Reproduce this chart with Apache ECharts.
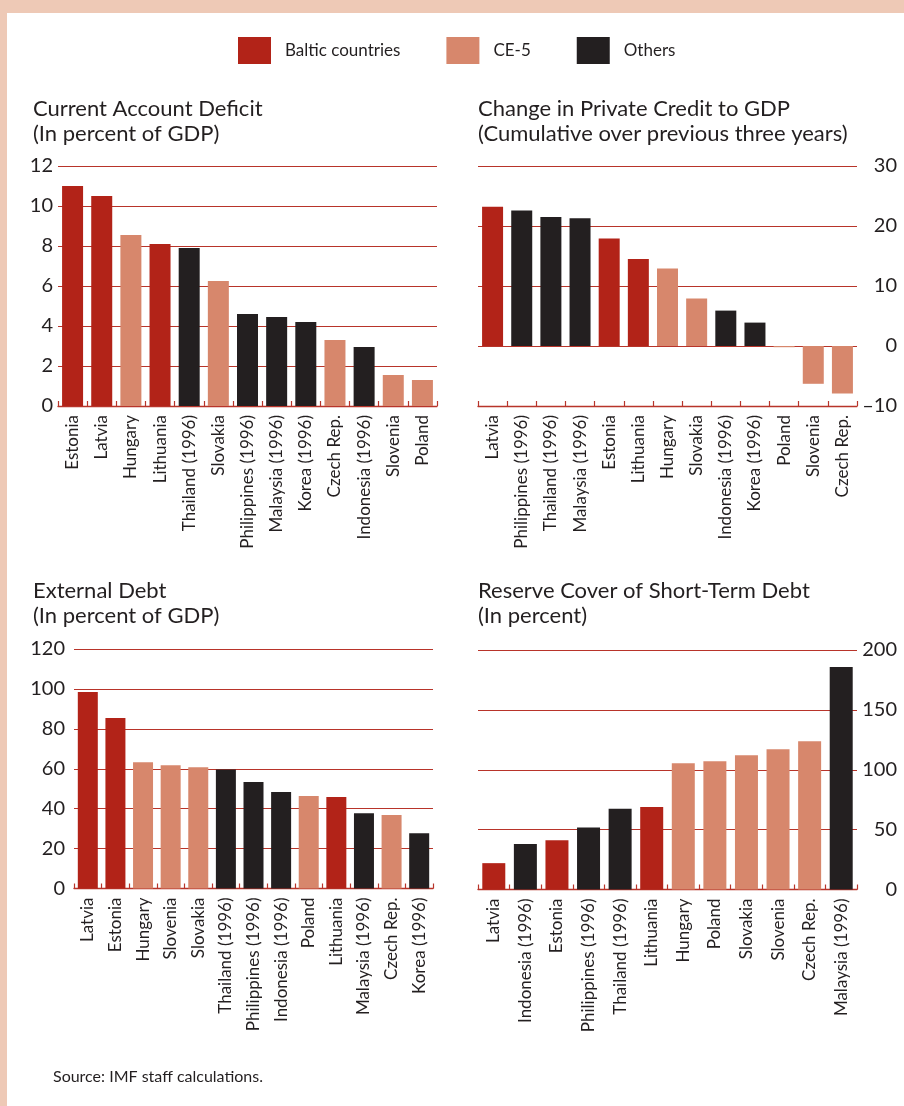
<!DOCTYPE html>
<html>
<head>
<meta charset="utf-8">
<script src="https://cdn.jsdelivr.net/npm/echarts@6/dist/echarts.min.js"></script>
<style>
  html, body { margin: 0; padding: 0; background: #ffffff; }
  #chart { width: 904px; height: 1106px; }
</style>
</head>
<body>
<div id="chart"></div>
<script>
// Group names and colours
const groupNames = ['Baltic countries', 'CE-5', 'Others'];
const groupColors = ['#B22318', '#D7876C', '#231F20'];

// Current Account Deficit (percent of GDP)
const caCategories = ['Estonia', 'Latvia', 'Hungary', 'Lithuania', 'Thailand (1996)', 'Slovakia',
  'Philippines (1996)', 'Malaysia (1996)', 'Korea (1996)', 'Czech Rep.', 'Indonesia (1996)', 'Slovenia', 'Poland'];
const caValues = [11.0, 10.5, 8.55, 8.1, 7.9, 6.25, 4.6, 4.45, 4.2, 3.3, 2.95, 1.55, 1.3];
const caGroups = [0, 0, 1, 0, 2, 1, 2, 2, 2, 1, 2, 1, 1];

// Change in Private Credit to GDP (cumulative over previous three years)
const pcCategories = ['Latvia', 'Philippines (1996)', 'Thailand (1996)', 'Malaysia (1996)', 'Estonia', 'Lithuania',
  'Hungary', 'Slovakia', 'Indonesia (1996)', 'Korea (1996)', 'Poland', 'Slovenia', 'Czech Rep.'];
const pcValues = [23.2, 22.6, 21.5, 21.3, 17.9, 14.5, 12.9, 7.9, 5.9, 3.9, -0.2, -6.3, -7.9];
const pcGroups = [0, 2, 2, 2, 0, 0, 1, 1, 2, 2, 1, 1, 1];

// External Debt (percent of GDP)
const edCategories = ['Latvia', 'Estonia', 'Hungary', 'Slovenia', 'Slovakia', 'Thailand (1996)', 'Philippines (1996)',
  'Indonesia (1996)', 'Poland', 'Lithuania', 'Malaysia (1996)', 'Czech Rep.', 'Korea (1996)'];
const edValues = [98.4, 85.4, 63.3, 61.8, 60.8, 59.6, 53.3, 48.3, 46.3, 45.8, 37.7, 36.8, 27.7];
const edGroups = [0, 0, 1, 1, 1, 2, 2, 2, 1, 0, 2, 1, 2];

// Reserve Cover of Short-Term Debt (percent)
const rcCategories = ['Latvia', 'Indonesia (1996)', 'Estonia', 'Philippines (1996)', 'Thailand (1996)', 'Lithuania',
  'Hungary', 'Poland', 'Slovakia', 'Slovenia', 'Czech Rep.', 'Malaysia (1996)'];
const rcValues = [22, 37.9, 41.2, 51.8, 67.4, 68.8, 105.5, 107.2, 112.2, 117.2, 123.9, 185.7];
const rcGroups = [0, 2, 0, 2, 2, 0, 1, 1, 1, 1, 1, 2];

// Axis ranges and steps
const caAxis = { min: 0, max: 12, interval: 2 };
const pcAxis = { min: -10, max: 30, interval: 10 };
const edAxis = { min: 0, max: 120, interval: 20 };
const rcAxis = { min: 0, max: 200, interval: 50 };

const FONT = 'Lato, "Open Sans", sans-serif';
const INK = '#231F20';
const RULE = '#B8342A';

const panels = [
  { cats: caCategories, vals: caValues, groups: caGroups, axis: caAxis,
    grid: { left: 58, top: 166, width: 379, height: 240 }, side: 'left', barWidth: 21, labelMargin: 5 },
  { cats: pcCategories, vals: pcValues, groups: pcGroups, axis: pcAxis,
    grid: { left: 478, top: 166, width: 379, height: 240 }, side: 'right', barWidth: 21, labelMargin: 40 },
  { cats: edCategories, vals: edValues, groups: edGroups, axis: edAxis,
    grid: { left: 74, top: 649, width: 359, height: 239.5 }, side: 'left', barWidth: 20, labelMargin: 9 },
  { cats: rcCategories, vals: rcValues, groups: rcGroups, axis: rcAxis,
    grid: { left: 478, top: 650, width: 379, height: 239.5 }, side: 'right', barWidth: 23, labelMargin: 40 }
];

const grids = [], xAxes = [], yAxes = [], series = [];
panels.forEach((p, i) => {
  grids.push(Object.assign({ containLabel: false }, p.grid));
  xAxes.push({
    type: 'category', gridIndex: i, data: p.cats, position: 'bottom',
    axisLine: { onZero: false, lineStyle: { color: RULE, width: 1.3 } },
    axisTick: { show: true, inside: true, length: 5, lineStyle: { color: RULE, width: 1.2 } },
    axisLabel: { rotate: 90, interval: 0, margin: 9, color: INK, fontFamily: FONT, fontSize: 17 },
    splitLine: { show: false }
  });
  yAxes.push({
    type: 'value', gridIndex: i, position: p.side,
    min: p.axis.min, max: p.axis.max, interval: p.axis.interval,
    axisLine: { show: false }, axisTick: { show: false },
    axisLabel: { color: INK, fontFamily: FONT, fontSize: 20, margin: p.labelMargin, align: 'right',
      formatter: v => (v < 0 ? '\u2013' + Math.abs(v) : String(v)) },
    splitLine: { show: true, lineStyle: { color: RULE, width: 1.2 } }
  });
  groupNames.forEach((name, g) => {
    series.push({
      name: name, type: 'bar', xAxisIndex: i, yAxisIndex: i, stack: 'panel' + i,
      barWidth: p.barWidth, itemStyle: { color: groupColors[g] },
      data: p.vals.map((v, k) => (p.groups[k] === g ? v : '-')),
      emphasis: { disabled: true }
    });
  });
});

const titles = [
  { text: 'Current Account Deficit\n(In percent of GDP)', left: 33, top: 96 },
  { text: 'Change in Private Credit to GDP\n(Cumulative over previous three years)', left: 478, top: 96 },
  { text: 'External Debt\n(In percent of GDP)', left: 33, top: 578 },
  { text: 'Reserve Cover of Short-Term Debt\n(In percent)', left: 478, top: 578 }
].map(t => Object.assign(t, {
  padding: 0,
  textStyle: { fontFamily: FONT, fontSize: 22, fontWeight: 'normal', color: INK, lineHeight: 25 }
}));

const chart = echarts.init(document.getElementById('chart'), null, { renderer: 'canvas' });
chart.setOption({
  animation: false,
  backgroundColor: '#ffffff',
  title: titles,
  legend: {
    data: groupNames, left: 238, top: 37, icon: 'rect',
    itemWidth: 33, itemHeight: 27, itemGap: 46, padding: 0, selectedMode: false,
    textStyle: { fontFamily: FONT, fontSize: 17, color: INK, padding: [12, 0, 0, 9] }
  },
  grid: grids, xAxis: xAxes, yAxis: yAxes, series: series,
  graphic: [
    { type: 'rect', left: 0, top: 0, shape: { width: 904, height: 13 }, style: { fill: '#EEC9B6' }, silent: true },
    { type: 'rect', left: 0, top: 0, shape: { width: 7, height: 1106 }, style: { fill: '#EEC9B6' }, silent: true },
    { type: 'text', left: 53, top: 1069, silent: true,
      style: { text: 'Source: IMF staff calculations.', fontFamily: FONT, fontSize: 16, fill: INK } }
  ]
});
</script>
</body>
</html>
